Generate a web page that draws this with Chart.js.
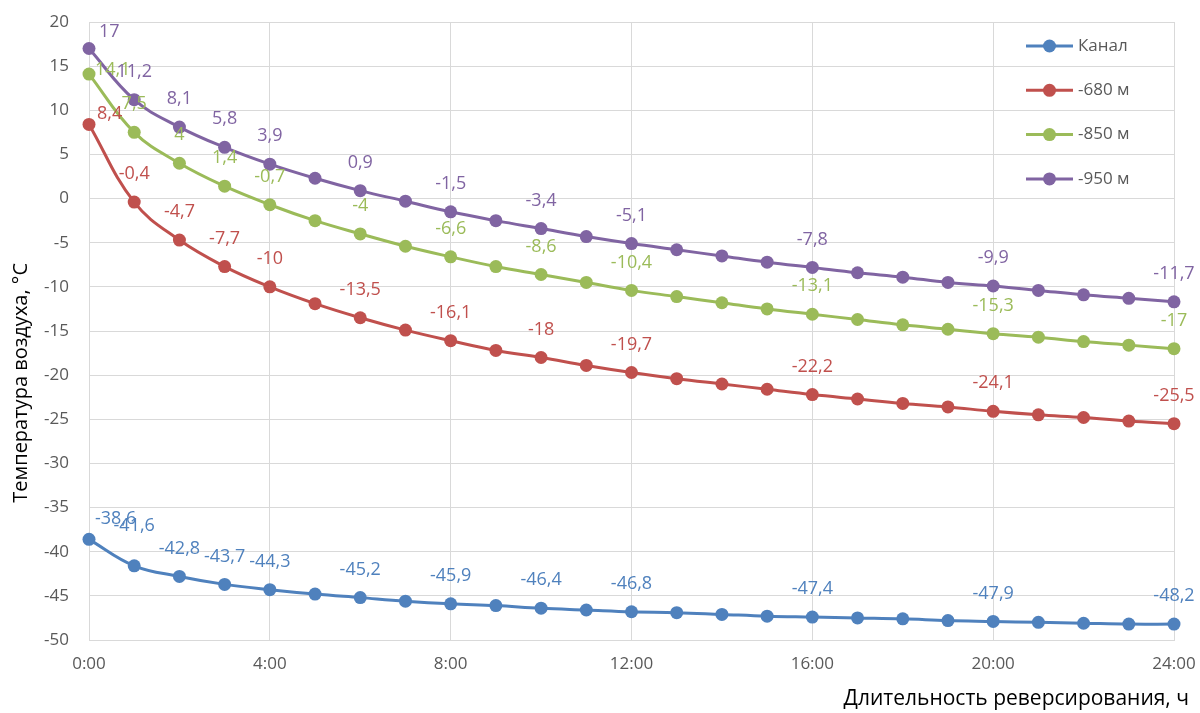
<!DOCTYPE html>
<html><head><meta charset="utf-8">
<script src="https://cdn.jsdelivr.net/npm/chart.js@4.4.1/dist/chart.umd.min.js"></script>
<style>html,body{margin:0;padding:0;background:#fff}#wrap{width:1200px;height:713px}</style>
</head><body><div id="wrap"><canvas id="c" width="1200" height="713"></canvas></div>
<script>
// ---- data ----
const hours = [0,1,2,3,4,5,6,7,8,9,10,11,12,13,14,15,16,17,18,19,20,21,22,23,24];
const seriesNames = ['Канал', '-680 м', '-850 м', '-950 м'];
const kanal = [-38.6,-41.6,-42.8,-43.7,-44.3,-44.8,-45.2,-45.6,-45.9,-46.1,-46.4,-46.6,-46.8,-46.9,-47.1,-47.3,-47.4,-47.5,-47.6,-47.8,-47.9,-48.0,-48.1,-48.2,-48.2];
const m680 = [8.4,-0.4,-4.7,-7.7,-10,-11.9,-13.5,-14.9,-16.1,-17.2,-18,-18.9,-19.7,-20.4,-21.0,-21.6,-22.2,-22.7,-23.2,-23.6,-24.1,-24.5,-24.8,-25.2,-25.5];
const m850 = [14.1,7.5,4,1.4,-0.7,-2.5,-4,-5.4,-6.6,-7.7,-8.6,-9.5,-10.4,-11.1,-11.8,-12.5,-13.1,-13.7,-14.3,-14.8,-15.3,-15.7,-16.2,-16.6,-17];
const m950 = [17,11.2,8.1,5.8,3.9,2.3,0.9,-0.3,-1.5,-2.5,-3.4,-4.3,-5.1,-5.8,-6.5,-7.2,-7.8,-8.4,-8.9,-9.5,-9.9,-10.4,-10.9,-11.3,-11.7];
const labelIndices = [0,1,2,3,4,6,8,10,12,16,20,24];
const xTickStep = 4;
const yMin = -50, yMax = 20, yStep = 5;
const xTitle = 'Длительность реверсирования, ч';
const yTitle = 'Температура воздуха, °С';

// ---- style ----
const colors = ['#4F81BD', '#C0504D', '#9BBB59', '#8064A2'];
const FONT = "'Open Sans', sans-serif";
const AXIS_COLOR = '#595959';
const GRID = '#D9D9D9';
// label adjustments for specific points (style only)
const labelAdjust = [
  {0: {dx: 6, dy: -20, align: 'left'}, 1: {dx: 0, dy: -40}},
  {0: {dx: 8, dy: -11, align: 'left'}},
  {0: {dx: 6, dy: -4, align: 'left'}},
  {0: {dx: 10, dy: -17, align: 'left'}}
];

const allSeries = [kanal, m680, m850, m950];
const fmt = v => String(v).replace('.', ',');

const datasets = allSeries.map((s, i) => ({
  label: seriesNames[i],
  data: hours.map((h, k) => ({x: h, y: s[k]})),
  borderColor: colors[i],
  backgroundColor: colors[i],
  pointBackgroundColor: colors[i],
  pointBorderColor: colors[i],
  pointBorderWidth: 0,
  pointRadius: 6.5,
  pointHoverRadius: 6.5,
  borderWidth: 3,
  tension: 0.4,
  fill: false,
  clip: false
}));

const labelsPlugin = {
  id: 'dlabels',
  afterDatasetsDraw(chart) {
    const ctx = chart.ctx;
    ctx.save();
    ctx.font = '18px ' + FONT;
    ctx.textBaseline = 'middle';
    chart.data.datasets.forEach((ds, i) => {
      const meta = chart.getDatasetMeta(i);
      labelIndices.forEach(idx => {
        const el = meta.data[idx];
        if (!el) return;
        const adj = labelAdjust[i][idx] || {dx: 0, dy: -28, align: 'center'};
        ctx.fillStyle = colors[i];
        ctx.textAlign = adj.align || 'center';
        ctx.fillText(fmt(ds.data[idx].y), el.x + adj.dx, el.y + adj.dy);
      });
    });
    ctx.restore();
  }
};

const legendPlugin = {
  id: 'inlegend',
  afterDraw(chart) {
    const ctx = chart.ctx;
    ctx.save();
    ctx.font = '17px ' + FONT;
    ctx.textBaseline = 'middle';
    ctx.textAlign = 'left';
    chart.data.datasets.forEach((ds, i) => {
      const y = 46 + i * 44.3;
      ctx.strokeStyle = colors[i];
      ctx.lineWidth = 3;
      ctx.beginPath(); ctx.moveTo(1026, y); ctx.lineTo(1073, y); ctx.stroke();
      ctx.fillStyle = colors[i];
      ctx.beginPath(); ctx.arc(1049.5, y, 6.5, 0, Math.PI * 2); ctx.fill();
      ctx.fillStyle = AXIS_COLOR;
      ctx.fillText(ds.label, 1078, y);
    });
    ctx.restore();
  }
};

const titlesPlugin = {
  id: 'atitles',
  afterDraw(chart) {
    const ctx = chart.ctx;
    ctx.save();
    ctx.font = '21px ' + FONT;
    ctx.fillStyle = '#000';
    ctx.textBaseline = 'middle';
    ctx.textAlign = 'right';
    ctx.fillText(xTitle, 1189, 699);
    ctx.font = '20px ' + FONT;
    ctx.translate(21, 263);
    ctx.rotate(-Math.PI / 2);
    ctx.textAlign = 'right';
    ctx.fillText(yTitle, 0, 0);
    ctx.restore();
  }
};

function zeroPad(s) { s.paddingTop = 0; s.paddingBottom = 0; s.paddingLeft = 0; s.paddingRight = 0; }

new Chart(document.getElementById('c'), {
  type: 'line',
  data: {datasets},
  options: {
    responsive: false,
    animation: false,
    devicePixelRatio: 1,
    layout: {autoPadding: false, padding: {left: 0, right: 26, top: 22, bottom: 0}},
    plugins: {legend: {display: false}, tooltip: {enabled: false}},
    scales: {
      x: {
        type: 'linear', min: 0, max: 24,
        ticks: {stepSize: xTickStep, callback: v => v + ':00', color: AXIS_COLOR, font: {family: FONT, size: 17}, padding: 14, maxRotation: 0},
        grid: {color: GRID, drawTicks: false, lineWidth: 1},
        border: {color: GRID},
        afterFit(s) { s.height = 73; zeroPad(s); }
      },
      y: {
        min: yMin, max: yMax,
        ticks: {stepSize: yStep, color: AXIS_COLOR, font: {family: FONT, size: 17}, padding: 20},
        grid: {color: GRID, drawTicks: false, lineWidth: 1},
        border: {color: GRID},
        afterFit(s) { s.width = 89; zeroPad(s); }
      }
    }
  },
  plugins: [labelsPlugin, legendPlugin, titlesPlugin]
});
</script></body></html>
